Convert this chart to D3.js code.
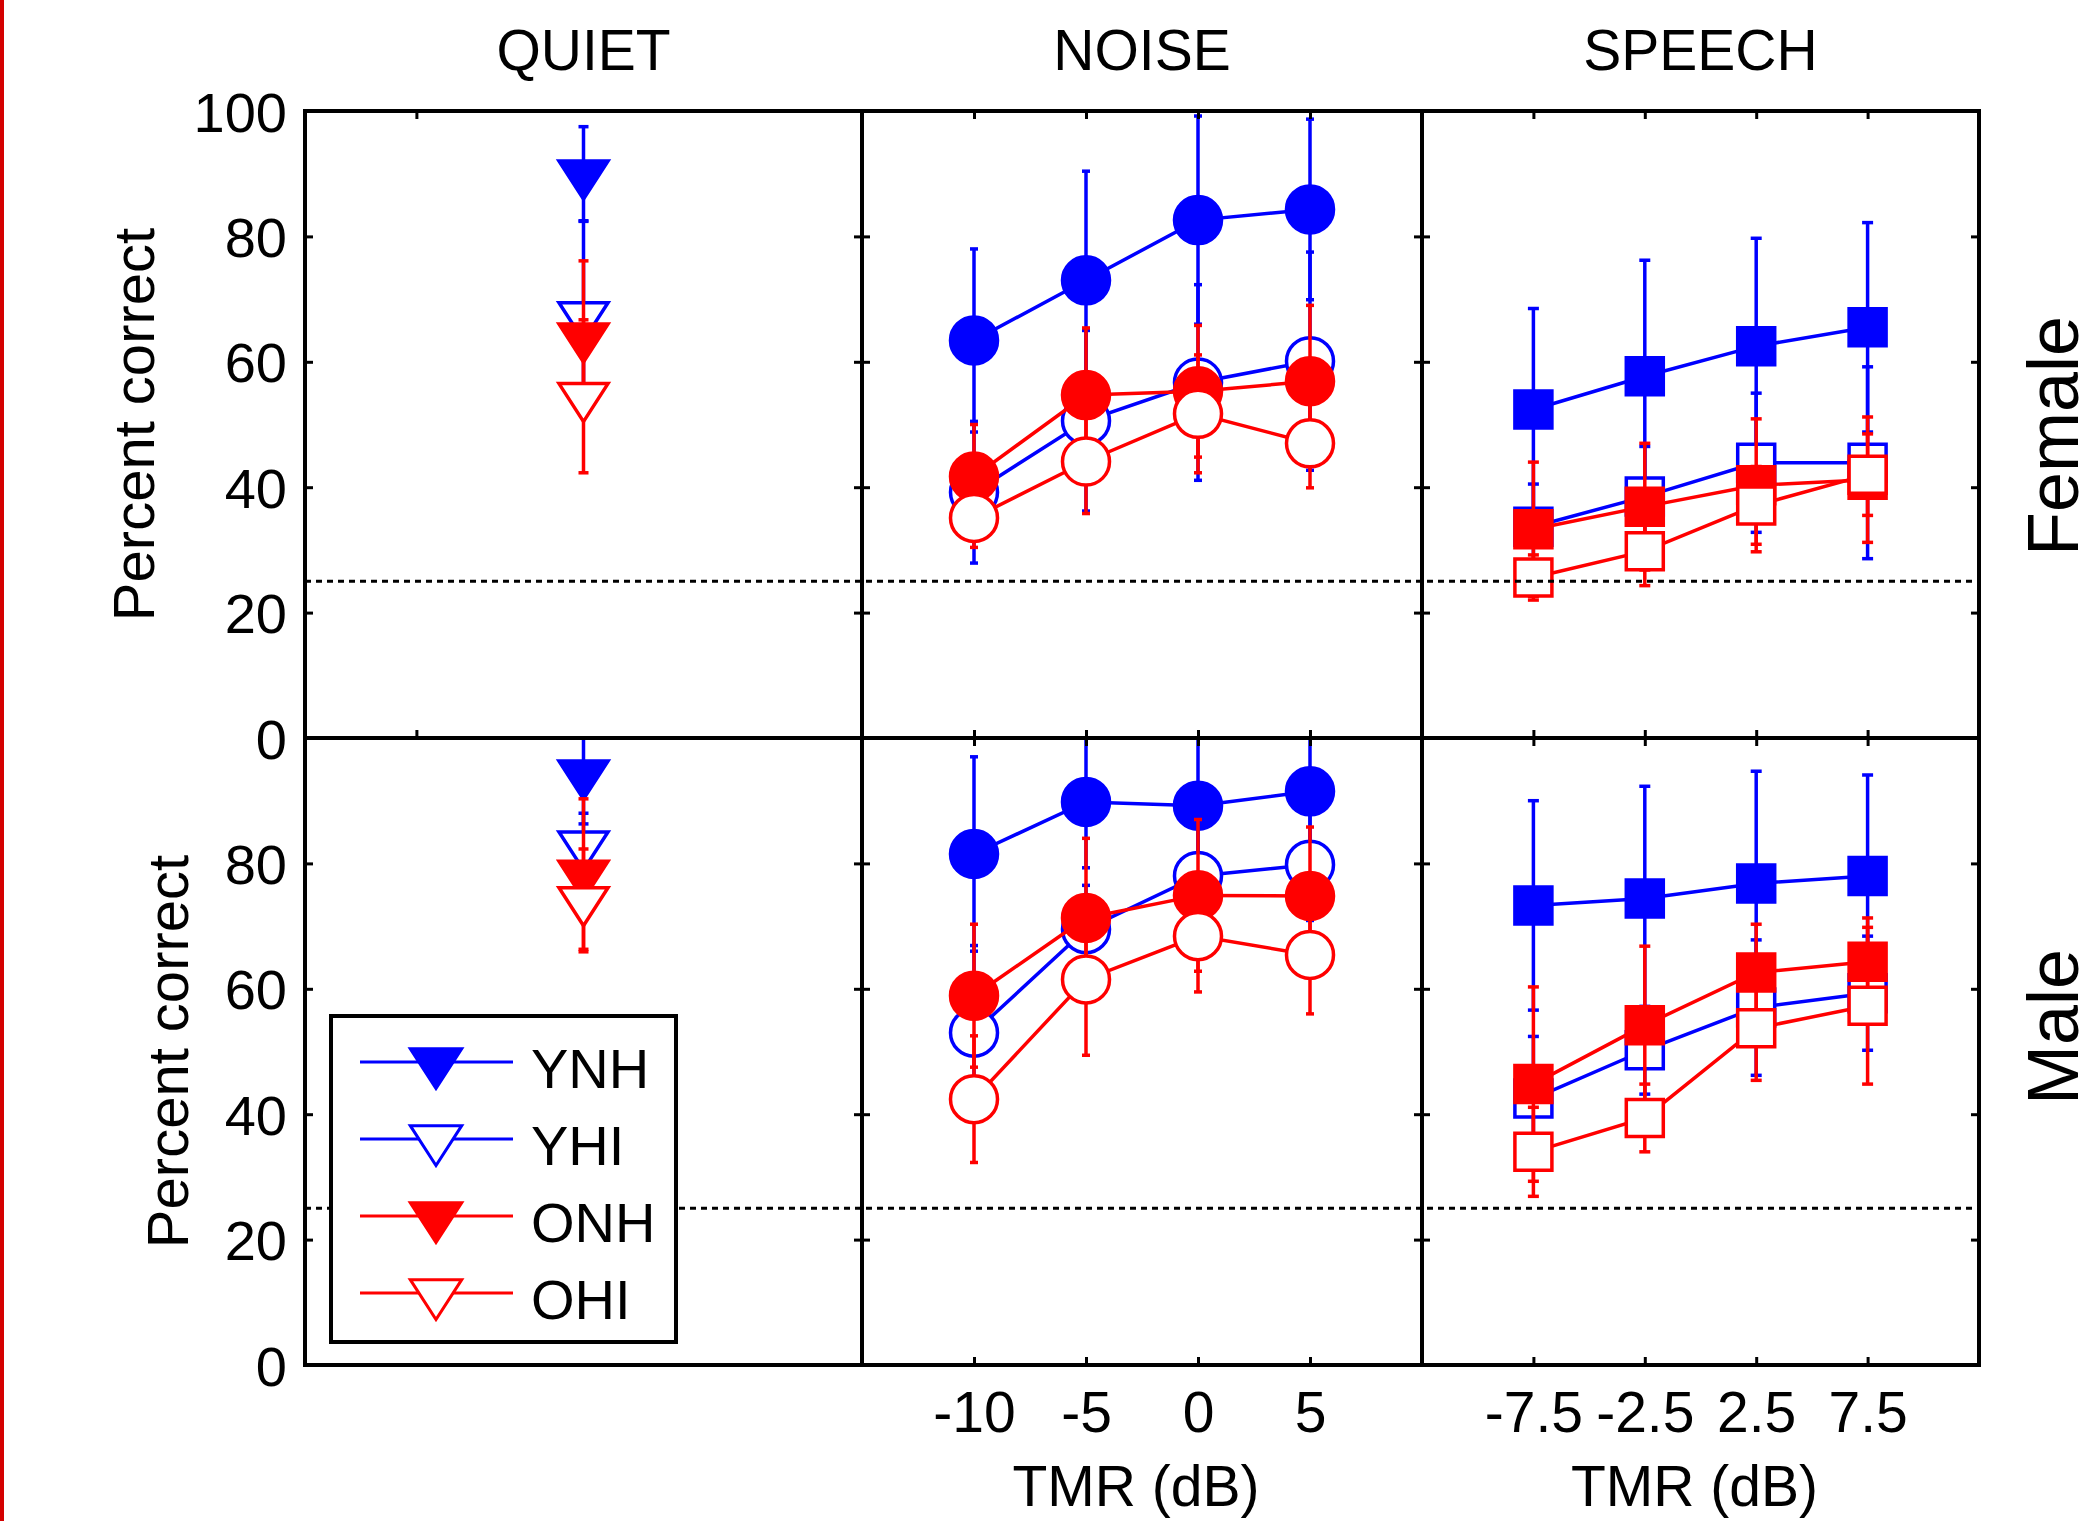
<!DOCTYPE html>
<html>
<head>
<meta charset="utf-8">
<title>Percent correct by masker condition</title>
<script src="https://cdn.jsdelivr.net/npm/d3@7"></script>
<style>
    html, body { margin: 0; background: #fff; }
    svg { display: block; }
    text { font-family: "Liberation Sans", Arial, sans-serif; fill: #000; }
</style>
</head>
<body>
<svg></svg>
<script>
// ---- data ----
var groups = ["YNH", "YHI", "ONH", "OHI"];
var groupColors = ["#0000ff", "#0000ff", "#ff0000", "#ff0000"];
var groupFilled = [true, false, true, false];
var conditions = ["QUIET", "NOISE", "SPEECH"];
var talkers = ["Female", "Male"];
var quietX = [-2.5];
var quietTicks = [-10];
var noiseTMR = [-10, -5, 0, 5];
var speechTMR = [-7.5, -2.5, 2.5, 7.5];
var yTicks = [0, 20, 40, 60, 80, 100];
var chanceLevel = 25;

// rows: YNH, YHI, ONH, OHI
var femaleQuietMean = [[90.0], [67.4], [64.0], [54.5]];
var femaleQuietSD   = [[7.5], [15.0], [12.1], [12.2]];
var maleQuietMean   = [[94.3], [83.0], [78.3], [74.1]];
var maleQuietSD     = [[8.0], [5.0], [12.0], [8.2]];

var femaleNoiseMean = [[63.4, 73.0, 82.6, 84.3], [39.2, 50.6, 56.7, 60.1], [41.7, 54.7, 55.3, 56.9], [35.1, 44.1, 51.7, 47.0]];
var femaleNoiseSD   = [[14.6, 17.4, 16.6, 14.4], [11.3, 14.4, 15.6, 17.4], [8.3, 10.7, 10.5, 12.1], [4.7, 8.3, 9.4, 7.1]];
var maleNoiseMean   = [[81.5, 89.8, 89.2, 91.5], [53.0, 69.5, 78.0, 79.8], [58.9, 71.3, 74.9, 74.8], [42.4, 61.5, 68.4, 65.4]];
var maleNoiseSD     = [[15.5, 10.5, 12.0, 10.0], [13.9, 7.0, 9.0, 8.9], [11.4, 12.7, 12.1, 11.0], [10.1, 12.1, 8.9, 9.4]];

var femaleSpeechMean = [[52.4, 57.7, 62.5, 65.5], [33.7, 38.5, 43.9, 43.9], [33.3, 36.9, 40.3, 41.2], [25.6, 29.8, 37.1, 42.0]];
var femaleSpeechSD   = [[16.1, 18.5, 17.2, 16.7], [6.8, 8.0, 11.1, 15.3], [10.7, 10.1, 10.6, 10.0], [3.6, 5.5, 6.2, 6.5]];
var maleSpeechMean   = [[73.3, 74.4, 76.8, 78.0], [42.5, 50.2, 57.0, 59.3], [44.8, 54.2, 62.6, 64.3], [34.0, 39.4, 53.7, 57.3]];
var maleSpeechSD     = [[16.7, 17.9, 17.9, 16.1], [9.9, 7.0, 10.8, 9.1], [15.5, 12.6, 7.7, 7.0], [7.1, 5.4, 8.3, 12.5]];

// ---- layout ----
var W = 2095, H = 1521;
var colX = [305, 862, 1422, 1979];
var rowY = [111, 738, 1365];
var xDomains = [[-15, 10], [-15, 10], [-12.5, 12.5]];
var xValues = [quietX, noiseTMR, speechTMR];
var xTickSets = [[quietTicks, noiseTMR, speechTMR], [[], noiseTMR, speechTMR]];
var shapes = ["triangle", "circle", "square"];
var capHalf = [5, 4, 5.5];

var means = [[femaleQuietMean, femaleNoiseMean, femaleSpeechMean],
             [maleQuietMean, maleNoiseMean, maleSpeechMean]];
var sds = [[femaleQuietSD, femaleNoiseSD, femaleSpeechSD],
           [maleQuietSD, maleNoiseSD, maleSpeechSD]];

var svg = d3.select("svg").attr("width", W).attr("height", H);
svg.append("rect").attr("width", W).attr("height", H).attr("fill", "#fff");
svg.append("rect").attr("x", 0).attr("y", 0).attr("width", 4).attr("height", H).attr("fill", "#d40000");

function markerPath(shape, k) {
    k = k || 1;
    var p = d3.path();
    if (shape === "circle") {
        p.moveTo(23.5 * k, 0);
        p.arc(0, 0, 23.5 * k, 0, 2 * Math.PI);
        p.closePath();
    } else if (shape === "square") {
        p.rect(-18.5 * k, -18.5 * k, 37 * k, 37 * k);
    } else {
        // downward triangle, centred on its centroid
        p.moveTo(-24.5 * k, -12.7 * k);
        p.lineTo(24.5 * k, -12.7 * k);
        p.lineTo(0, 25.3 * k);
        p.closePath();
    }
    return p.toString();
}

var dataLayer = svg.append("g");
var chanceLayer = svg.append("g");
var axisLayer = svg.append("g");

talkers.forEach(function (talker, r) {
    var y = d3.scaleLinear().domain([0, 100]).range([rowY[r + 1], rowY[r]]);

    conditions.forEach(function (cond, c) {
        var x = d3.scaleLinear().domain(xDomains[c]).range([colX[c], colX[c + 1]]);
        var clipId = "clip" + r + c;
        svg.append("clipPath").attr("id", clipId).append("rect")
            .attr("x", colX[c]).attr("y", rowY[r])
            .attr("width", colX[c + 1] - colX[c]).attr("height", rowY[r + 1] - rowY[r]);

        var g = dataLayer.append("g").attr("clip-path", "url(#" + clipId + ")");

        groups.forEach(function (grp, i) {
            var pts = xValues[c].map(function (xv, j) {
                return {x: xv, m: means[r][c][i][j], s: sds[r][c][i][j]};
            });
            var gg = g.append("g")
                .attr("stroke", groupColors[i])
                .attr("stroke-width", 3.5)
                .attr("fill", "none");

            // error bars
            var eb = gg.selectAll(".eb").data(pts).join("g");
            eb.append("line")
                .attr("x1", function (d) { return x(d.x); })
                .attr("x2", function (d) { return x(d.x); })
                .attr("y1", function (d) { return y(d.m - d.s); })
                .attr("y2", function (d) { return y(d.m + d.s); });
            [-1, 1].forEach(function (sgn) {
                eb.append("line")
                    .attr("x1", function (d) { return x(d.x) - capHalf[c]; })
                    .attr("x2", function (d) { return x(d.x) + capHalf[c]; })
                    .attr("y1", function (d) { return y(d.m + sgn * d.s); })
                    .attr("y2", function (d) { return y(d.m + sgn * d.s); });
            });

            // connecting line
            gg.append("path").datum(pts)
                .attr("d", d3.line().x(function (d) { return x(d.x); }).y(function (d) { return y(d.m); }));

            // markers
            gg.selectAll(".mk").data(pts).join("path")
                .attr("d", markerPath(shapes[c]))
                .attr("transform", function (d) { return "translate(" + x(d.x) + "," + y(d.m) + ")"; })
                .attr("fill", groupFilled[i] ? groupColors[i] : "#fff");
        });

        // ticks (inward) on all four sides
        var tickStyle = function (sel) {
            sel.select(".domain").remove();
            sel.selectAll(".tick line").attr("stroke", "#000").attr("stroke-width", 3);
            sel.selectAll(".tick text").remove();
        };
        axisLayer.append("g").attr("transform", "translate(" + colX[c] + ",0)")
            .call(d3.axisLeft(y).tickValues(yTicks).tickSize(-8)).call(tickStyle);
        axisLayer.append("g").attr("transform", "translate(" + colX[c + 1] + ",0)")
            .call(d3.axisRight(y).tickValues(yTicks).tickSize(-8)).call(tickStyle);
        axisLayer.append("g").attr("transform", "translate(0," + rowY[r] + ")")
            .call(d3.axisTop(x).tickValues(xTickSets[r][c]).tickSize(-8)).call(tickStyle);
        axisLayer.append("g").attr("transform", "translate(0," + rowY[r + 1] + ")")
            .call(d3.axisBottom(x).tickValues(xTickSets[r][c]).tickSize(-8)).call(tickStyle);

        // x tick labels under the bottom row
        if (r === 1 && c > 0) {
            var xl = axisLayer.append("g").attr("transform", "translate(0," + rowY[2] + ")")
                .call(d3.axisBottom(x).tickValues(xValues[c]).tickSize(0).tickPadding(27)
                    .tickFormat(function (d) { return String(d); }));
            xl.select(".domain").remove();
            xl.attr("font-size", 57).attr("font-family", null);
            axisLayer.append("text")
                .attr("x", (colX[c] + colX[c + 1]) / 2 - 6).attr("y", 1506)
                .attr("text-anchor", "middle").attr("font-size", 57)
                .text("TMR (dB)");
        }

        // panel box
        axisLayer.append("rect")
            .attr("x", colX[c]).attr("y", rowY[r])
            .attr("width", colX[c + 1] - colX[c]).attr("height", rowY[r + 1] - rowY[r])
            .attr("fill", "none").attr("stroke", "#000").attr("stroke-width", 4);
    });

    // chance level
    chanceLayer.append("line")
        .attr("x1", colX[0]).attr("x2", colX[3])
        .attr("y1", y(chanceLevel)).attr("y2", y(chanceLevel))
        .attr("stroke", "#000").attr("stroke-width", 3).attr("stroke-dasharray", "6,5");

    // y tick labels
    var yl = axisLayer.append("g").attr("transform", "translate(" + colX[0] + ",0)")
        .call(d3.axisLeft(y).tickValues(r === 0 ? yTicks : yTicks.slice(0, 5))
            .tickSize(0).tickPadding(18).tickFormat(d3.format("d")));
    yl.select(".domain").remove();
    yl.attr("font-size", 56).attr("font-family", null);
    yl.selectAll("text").attr("dy", "0.36em");

    // y axis title
    var ylx = r === 0 ? 154 : 188;
    var yly = (rowY[r] + rowY[r + 1]) / 2;
    axisLayer.append("text")
        .attr("transform", "translate(" + ylx + "," + yly + ") rotate(-90)")
        .attr("text-anchor", "middle").attr("font-size", 58)
        .text("Percent correct");

    // talker label on the right
    var ty = r === 0 ? 436 : 1027;
    axisLayer.append("text")
        .attr("transform", "translate(2078," + ty + ") rotate(-90)")
        .attr("text-anchor", "middle").attr("font-size", 72)
        .text(talker);
});

// condition titles
conditions.forEach(function (cond, c) {
    axisLayer.append("text")
        .attr("x", (colX[c] + colX[c + 1]) / 2).attr("y", 70)
        .attr("text-anchor", "middle").attr("font-size", 57)
        .text(cond);
});

// legend
var legend = svg.append("g");
legend.append("rect")
    .attr("x", 331).attr("y", 1016).attr("width", 345).attr("height", 326)
    .attr("fill", "#fff").attr("stroke", "#000").attr("stroke-width", 4);
groups.forEach(function (grp, i) {
    var ly = 1062 + i * 77;
    var lg = legend.append("g");
    lg.append("line")
        .attr("x1", 360).attr("x2", 513).attr("y1", ly).attr("y2", ly)
        .attr("stroke", groupColors[i]).attr("stroke-width", 3);
    lg.append("path")
        .attr("d", markerPath("triangle", 1.05))
        .attr("transform", "translate(436," + ly + ")")
        .attr("fill", groupFilled[i] ? groupColors[i] : "#fff")
        .attr("stroke", groupColors[i]).attr("stroke-width", 3);
    lg.append("text")
        .attr("x", 531).attr("y", ly + 26)
        .attr("font-size", 56)
        .text(grp);
});
</script>
</body>
</html>
